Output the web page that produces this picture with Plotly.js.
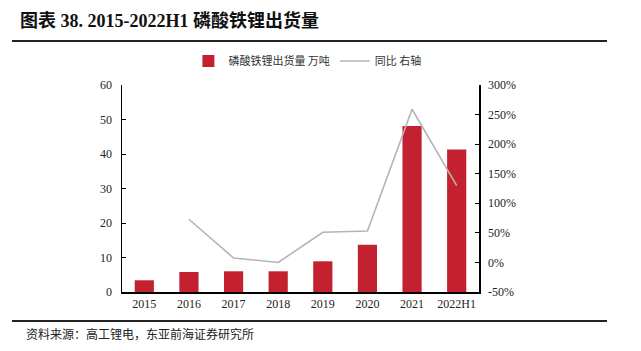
<!DOCTYPE html>
<html><head><meta charset="utf-8">
<script src="https://cdn.plot.ly/plotly-3.0.1.min.js"></script>
<style>html,body{margin:0;padding:0;background:#fff}#c{width:641px;height:351px}</style>
</head><body><div id="c"></div>
<script>
var categories = ['2015','2016','2017','2018','2019','2020','2021','2022H1'];
var shipments = [3.4, 5.8, 6.0, 6.0, 8.9, 13.7, 48.1, 41.3];
var yoy = [null, 73, 7.5, 0, 51, 53, 259, 130];
var leftTicks = [0,10,20,30,40,50,60];
var rightTicks = [-50,0,50,100,150,200,250,300];
var rightTickText = ['-50%','0%','50%','100%','150%','200%','250%','300%'];

var serif = '"Liberation Serif","Times New Roman","Noto Sans CJK SC",serif';
var cjk = '"Noto Sans CJK SC","Liberation Serif",serif';

var data = [
  {type:'bar', x:categories, y:shipments, name:'磷酸铁锂出货量 万吨',
   marker:{color:'#C3212F'}, width:0.43, yaxis:'y'},
  {type:'scatter', mode:'lines', x:categories, y:yoy, name:'同比 右轴',
   line:{color:'#B4B4B4', width:1.6}, yaxis:'y2', connectgaps:false}
];
var layout = {
  width:641, height:351,
  margin:{l:122, r:162, t:85, b:59},
  paper_bgcolor:'#fff', plot_bgcolor:'#fff',
  font:{family:serif, size:12, color:'#222'},
  showlegend:true,
  legend:{orientation:'h', x:0.186, xanchor:'left', y:1.116, yanchor:'middle',
    font:{family:cjk, size:11, color:'#333'}, itemwidth:30, tracegroupgap:0},
  title:{text:'<b>图表 38. 2015-2022H1 磷酸铁锂出货量</b>', xref:'container', yref:'container',
    x:20/641, xanchor:'left', y:1-21/351, yanchor:'middle',
    font:{family:serif, size:18, color:'#111'}},
  xaxis:{type:'category', showline:true, linecolor:'#000', linewidth:1.5, ticks:'',
    showgrid:false, zeroline:false, tickfont:{family:serif,size:12,color:'#222'}},
  yaxis:{range:[0,60], tickvals:leftTicks, showline:true, linecolor:'#000', linewidth:1.5,
    ticks:'inside', ticklen:4, tickcolor:'#000', showgrid:false, zeroline:false,
    ticklabelstandoff:6, tickfont:{family:serif,size:12,color:'#222'}},
  yaxis2:{range:[-50,300], tickvals:rightTicks, ticktext:rightTickText, overlaying:'y', side:'right',
    showline:true, linecolor:'#000', linewidth:1.5, ticks:'inside', ticklen:4, tickcolor:'#000',
    showgrid:false, zeroline:false, ticklabelstandoff:5, tickfont:{family:serif,size:12,color:'#222'}},
  shapes:[
    {type:'line', xref:'paper', yref:'paper', x0:(12-122)/357, x1:(607-122)/357, y0:(292-41)/207, y1:(292-41)/207,
     line:{color:'#222', width:2}},
    {type:'line', xref:'paper', yref:'paper', x0:(12-122)/357, x1:(607-122)/357, y0:(292-321)/207, y1:(292-321)/207,
     line:{color:'#222', width:2}}
  ],
  annotations:[
    {text:'资料来源：高工锂电，东亚前海证券研究所', xref:'paper', yref:'paper',
     x:(24-122)/357, xanchor:'left', y:(292-333)/207, yanchor:'middle', showarrow:false,
     font:{family:cjk, size:12, color:'#222'}}
  ]
};
Plotly.newPlot('c', data, layout, {displayModeBar:false, staticPlot:true});
</script></body></html>
